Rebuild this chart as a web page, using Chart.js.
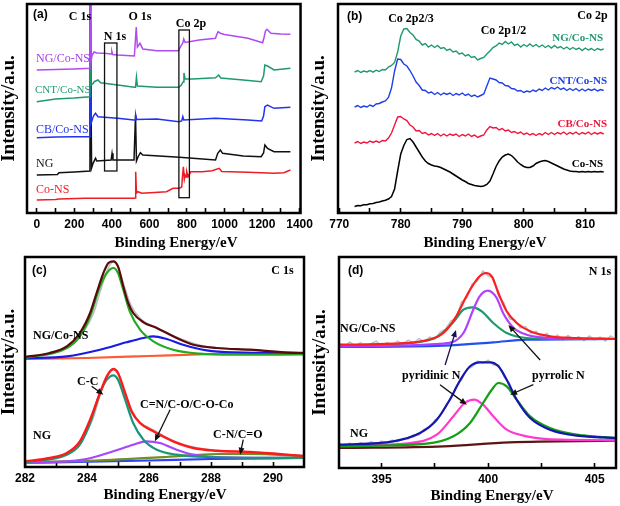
<!DOCTYPE html>
<html>
<head>
<meta charset="utf-8">
<title>XPS spectra</title>
<script src="https://cdn.jsdelivr.net/npm/chart.js@4.4.1/dist/chart.umd.min.js"></script>
<style>
html,body{margin:0;padding:0;background:#fff;}
#fig{position:relative;width:620px;height:506px;overflow:hidden;background:#fff;}
#fig canvas{position:absolute;}
</style>
</head>
<body>
<div id="fig">
<canvas id="ca" width="322" height="253" style="left:0;top:0;width:322px;height:253px"></canvas>
<canvas id="cb" width="310" height="253" style="left:310px;top:0;width:310px;height:253px"></canvas>
<canvas id="cc" width="310" height="253" style="left:0;top:253px;width:310px;height:253px"></canvas>
<canvas id="cd" width="310" height="253" style="left:310px;top:253px;width:310px;height:253px"></canvas>
</div>
<script>
// ================= DATA =================
// ---- (a) survey spectra: binding energy (eV) / intensity (a.u.) ----
const aE_ngco = [0,100,200,283.3,284,288,295,305,320,360,396,400,404,430,520,530,536,550,565,640,755,768,778,783,790,865,952,958,966,978,1000,1125,1203,1210,1218,1226,1247,1300,1351];
const aI_ngco = [143,143.5,144,144.7,240,151,158,161,160,159.7,159,161.5,158.5,158,157,186,166,169.7,164,162.3,162.3,167,170,174,170.5,173,174.7,178,181.3,179.7,178.5,174.7,170.3,175,182,183.7,179.7,179,178.7];
const aE_cnt = [0,100,200,283.3,284,288,300,306,326,340,431,520,526,531,536,640,757,770,779,784,790,830,952,969,980,1100,1195,1208,1215,1229,1264,1351];
const aI_cnt = [111.3,114,115,116.3,240,128,129.3,131.3,133,130.3,128,125.7,125.7,135.7,127,125.7,125.7,128,131,140,134,134,135.3,138,135,133,131.3,137,148,147,143,144.7];
const aE_cb = [0,100,200,283.3,284,290,300,306,313,326,431,518,524,527,532,640,757,772,778,783,952,1125,1198,1208,1215,1229,1264,1351];
const aI_cb = [75.3,76,76.3,76.3,240,90,96,98,99.7,96.3,94.7,93,93,98,93.5,94,91.3,92,96.3,93,94.7,93,92,97,106.3,108,104.7,105.7];
const aE_ng = [0,110,118,200,283.3,284,292,300,313,320,396,401,406,518,526,531,540,552,565,760,952,964,978,990,1100,1195,1208,1215,1229,1264,1351];
const aI_ng = [38,38.5,40.3,41,42,240,45,49.7,54.7,52,53,59.7,53,53,98,52,56.3,60.3,58,55.7,53,59.7,63,59.7,57,56.3,60,68,64.7,61.3,61.3];
const aE_cons = [0,100,118,257,518,524,527,531,538,560,691,726,760,772,776,781,786,790,795,799,806,821,882,934,972,985,1125,1264,1316,1351];
const aI_cons = [13,13.5,14,14.7,14.7,15,41.3,20,21.3,19.7,21.3,24.7,24.7,26,36.3,46.3,34,38,36,41.3,36.3,41.3,41.3,42.3,44.7,41.5,40.7,39.7,40.3,43];
const aTicks = [0,100,200,300,400,500,600,700,800,900,1000,1100,1200,1300,1400];
const aTickLabels = [0,200,400,600,800,1000,1200,1400];

// ---- (b) Co 2p (0.5 eV steps) ----
const bE = [772.5,773,773.5,774,774.5,775,775.5,776,776.5,777,777.5,778,778.5,779,779.5,780,780.5,781,781.5,782,782.5,783,783.5,784,784.5,785,785.5,786,786.5,787,787.5,788,788.5,789,789.5,790,790.5,791,791.5,792,792.5,793,793.5,794,794.5,795,795.5,796,796.5,797,797.5,798,798.5,799,799.5,800,800.5,801,801.5,802,802.5,803,803.5,804,804.5,805,805.5,806,806.5,807,807.5,808,808.5,809,809.5,810,810.5,811,811.5,812,812.5,813];
const bI_ngco = [141,142.5,140.5,142,141,142.5,140.8,142.8,141.5,143.5,143,146,147.5,150.5,161,177,184,184.5,180.5,178,173.5,172,168,169.5,166,168,165.5,167.5,164.5,165.5,162.5,164,161,162,159,160,157,158.5,155.5,156.5,153,154.5,155.5,159,162,165.5,167,170,168.5,171.5,169,171,167.5,169,166,168.5,166.5,169,166.5,168.5,166,168,165.5,167.5,165,167.5,165,166.5,164,166,163.5,165.5,163.5,165,162.5,165,163,164.5,162.5,164.5,163,164];
const bI_cnt = [106,107.5,105.5,107,106,108,106.5,109,109.5,111,112,115.5,125,142,154,153.5,149,147,142.5,137,131,127.5,123,122.5,120,121,118.5,120.5,118,120,118.5,120,117.5,119.5,118,120,117.5,119,116.5,118,116,117.5,119,127,135,134,133,130.5,130,127.5,127,124.5,124,122,122.5,120.5,122,121,123,121.5,124,122.5,125,123,125.5,124,126,123.5,125,122.5,124.5,122.5,124.5,122,124,122,124,122.5,124,122,123.5,122.5];
const bI_cb = [70,71.5,69.5,71,70,72,70.5,72,70.5,72.5,72,75,80,88,96,96.5,94,92.5,88,86,82,82.5,79.5,80.5,78,79.5,77.5,79.5,77,79,77,79,77.5,79,76.5,78.5,77,79,76.5,78,75.5,77,78,83,86.5,85,85.5,83,84.5,82,83,80.5,81.5,79.5,81,78.5,80,78,79.5,77.5,79.5,78,80.5,78.5,80.5,78.5,80.5,79,81,78.5,80.5,79,81,78.5,80.5,79,81,78.5,80.5,79,80.5,79];
const bI_cons = [6.5,7.5,7.2,8.3,8.2,9.2,9.5,10.5,11,12,12.8,14,16.5,24,42,59,67.5,73.5,74.5,71,66,61,56,52,49.5,48,47,46.5,45.5,44,42.5,41,39,37,35,33,31.5,29.5,28.5,27.5,27,26.5,27,28.5,32,39,46.5,52,56,58,59,57.5,54.5,51,48.5,46.5,45.5,45.5,47,49.5,51,52,52.5,51.5,50,48.5,47,45.5,44,43,42,41.5,41.5,41,41.5,41,41.5,41,41.5,41,41.5,41];
const bTicks = [770,775,780,785,790,795,800,805,810];
const bTickLabels = [770,780,790,800,810];

// ---- (c) C 1s ----
const cE_up_env = [282,282.8,283.35,283.77,284.1,284.31,284.53,284.69,284.85,285.0,285.17,285.33,285.49,285.82,286.25,286.78,287.43,288.18,289.26,290.87,291];
const cI_up_env = [110,114,120.7,134,154,174,194,204,205.7,200.7,180.7,164,154,144.7,139,130.7,122.3,119,117.3,114,114];
const cE_up_cc = [282,283.35,283.77,284.1,284.42,284.64,284.85,285.0,285.17,285.38,285.71,286.14,286.78,287.64,288.72,291];
const cI_up_cc = [109,119,130.7,150.7,180.7,194,199,194,177.3,155.7,137.3,125.7,117.3,113.3,112.3,112.5];
const cE_up_cn = [282,283.35,284.42,285.27,285.82,286.14,286.57,287.1,287.86,288.72,291];
const cI_up_cn = [108.7,110.7,117.3,124.7,129,130.7,128,122.3,116.7,114.7,114];
const cE_up_base = [282,284,286,288,290,291];
const cI_up_base = [108,109,111,113,114,114.3];
const cE_raw = [282,282.5,283,283.5,283.9,284.2,284.45,284.7,284.85,285.0,285.2,285.4,285.7,286.2,286.8,287.5,288.2,289.3,290.3,291];
const cI_raw_up = [110,112,116,123,136,153,178,200,205,200,181,163,149,140,131,123,119,117,115,114];
const cI_raw_lo = [5.5,7,10,16,30,49,75,94,97.5,93,72,56,45,36,26,19.5,16.5,15,13,11.5];
const cE_lo_env = [282,282.8,283.35,283.77,284.1,284.42,284.64,284.85,285.0,285.23,285.44,285.71,286.14,286.78,287.43,288.18,289.26,290.87,291];
const cI_lo_env = [5.7,9,14,25.7,47.3,74,90.7,98,94,74,55.7,44,35.7,25.7,19,16.3,15,11.3,11];
const cE_lo_cc = [282,283.35,283.77,284.1,284.42,284.64,284.85,285.0,285.23,285.49,285.82,286.25,286.89,287.86,291];
const cI_lo_cc = [4.7,12.3,22.3,44,74,87.3,91.7,87.3,67.3,44,27.3,17.3,12.3,10,9];
const cE_lo_cn = [282,283.88,284.85,285.49,285.92,286.35,286.89,287.43,288.18,291];
const cI_lo_cn = [4,7.3,15.7,22.3,25.7,24,17.3,12.3,10,9];
const cE_lo_co = [282,284.42,286.57,288.18,289.26,291];
const cI_lo_co = [4.7,6.7,10,13,13,10.5];
const cE_lo_base = [282,286,288,291];
const cI_lo_base = [4,6.5,8,9];
const cTicks = [282,283,284,285,286,287,288,289,290];
const cTickLabels = [282,284,286,288,290];

// ---- (d) N 1s ----
const dE_up_env = [393,395.55,397.1,397.9,398.5,398.98,399.3,399.6,399.9,400.17,400.48,400.87,401.34,401.97,402.9,404.16,406];
const dI_up_env = [123.3,124.3,127.7,135,151.7,171.7,183.3,191.7,195,191.7,175,156.7,145,136.7,131.7,130,129];
const dE_up_pyd = [393,396.33,397.59,398.37,398.84,399.26,399.7,400.24,400.87,401.81,403.38,406];
const dI_up_pyd = [122.3,125,131,146,158.3,160.7,156.7,145,135,130,129,129];
const dE_up_pyr = [393,397.9,398.84,399.3,399.6,399.99,400.4,400.7,401.2,401.81,402.9,406];
const dI_up_pyr = [121.7,124.3,135,158.3,171.7,177.3,170,155,140,133.3,130,129];
const dE_up_base = [393,397.9,400.24,401.81,406];
const dI_up_base = [121,122.3,125.7,128.3,129];
const dE_lo_env = [393,395.55,396.8,397.59,398.2,398.7,399.15,399.62,400.09,400.48,400.87,401.34,401.97,402.9,404.16,406];
const dI_lo_env = [23.3,26.7,35,48.3,68.3,88.3,101.7,105.7,105.7,101.7,88.3,68.3,50,38.3,32.3,30];
const dE_lo_pyd = [393,396.33,397.59,398.37,398.9,399.34,399.76,400.24,400.87,401.81,403.38,406];
const dI_lo_pyd = [22.3,25,33.3,51.7,65,68.3,63.3,51.7,38.3,31.7,28.3,27.7];
const dE_lo_pyr = [393,397.1,398.37,399.15,399.76,400.17,400.48,400.87,401.34,401.97,402.9,404.16,406];
const dI_lo_pyr = [21.7,24.3,31.7,45,65,78.3,85,81.7,68.3,51.7,40,33.3,30];
const dE_lo_base = [393,397.9,401,406];
const dI_lo_base = [20,21.7,25.7,27.3];
const dE_raw = [393,393.25,393.5,393.75,394,394.25,394.5,394.75,395,395.25,395.5,395.75,396,396.25,396.5,396.75,397,397.25,397.5,397.75,398,398.25,398.5,398.75,399,399.25,399.5,399.75,400,400.25,400.5,400.75,401,401.25,401.5,401.75,402,402.25,402.5,402.75,403,403.25,403.5,403.75,404,404.25,404.5,404.75,405,405.25,405.5,405.75,406];
const dI_raw_up = [125,121,126,122,125.5,121.5,124.5,127,122,125.5,123,127,124,128,125,129.5,126.5,131,129,136,139,147,150,166,170,184,187,197,192,190,171,165,149,148,140,141.5,134.5,137,131,134.5,129.5,133,128,132.5,128.5,131.5,127.5,132,128,131,127,132,128.5];
const dI_raw_lo = [24.5,22,25,22.5,25.5,23,26.5,24,27,25,28,26,29.5,29,33,33,39,40.5,48,52,62.5,69,82,88,99,101,107,105,108,103,103,91,85,70,64.5,54.5,51,45,43.5,39,39.5,35.5,36,33,34.5,31.5,33.5,30.5,32.5,29.5,31.5,29,31];
const dTicks = [395,397.5,400,402.5,405];
const dTickLabels = [395,400,405];

// ================= HELPERS =================
const SERIF = "'Times New Roman','Liberation Serif',serif";
const SANS = "Arial,'Liberation Sans',sans-serif";

function series(label, xs, ys, color, width, smooth) {
  return {
    label: label,
    data: xs.map((x, i) => ({x: x, y: ys[i]})),
    borderColor: color, backgroundColor: color,
    borderWidth: width, pointRadius: 0, pointHoverRadius: 0,
    showLine: true, fill: false, tension: 0,
    cubicInterpolationMode: smooth ? 'monotone' : 'default'
  };
}

const annotPlugin = {
  id: 'annot',
  afterDraw(chart, args, o) {
    const ctx = chart.ctx, a = chart.chartArea;
    const sx = chart.scales.x, sy = chart.scales.y;
    const ox = o.ox || 0, oy = o.oy || 0;
    ctx.save();
    (o.boxes || []).forEach(b => {
      const x0 = sx.getPixelForValue(b.x0), x1 = sx.getPixelForValue(b.x1);
      const y0 = sy.getPixelForValue(b.y0), y1 = sy.getPixelForValue(b.y1);
      ctx.lineWidth = 1.3; ctx.strokeStyle = '#111';
      ctx.strokeRect(Math.min(x0,x1), Math.min(y0,y1), Math.abs(x1-x0), Math.abs(y1-y0));
    });
    (o.arrows || []).forEach(r => {
      const x0 = sx.getPixelForValue(r.x0), y0 = sy.getPixelForValue(r.y0);
      const x1 = sx.getPixelForValue(r.x1), y1 = sy.getPixelForValue(r.y1);
      const ang = Math.atan2(y1 - y0, x1 - x0), L = 7, W = 3;
      ctx.strokeStyle = r.c || '#111'; ctx.fillStyle = r.c || '#111'; ctx.lineWidth = 1.3;
      ctx.beginPath(); ctx.moveTo(x0, y0);
      ctx.lineTo(x1 - Math.cos(ang) * L * 0.8, y1 - Math.sin(ang) * L * 0.8); ctx.stroke();
      ctx.beginPath(); ctx.moveTo(x1, y1);
      ctx.lineTo(x1 - Math.cos(ang) * L + Math.sin(ang) * W, y1 - Math.sin(ang) * L - Math.cos(ang) * W);
      ctx.lineTo(x1 - Math.cos(ang) * L - Math.sin(ang) * W, y1 - Math.sin(ang) * L + Math.cos(ang) * W);
      ctx.closePath(); ctx.fill();
    });
    ctx.lineWidth = 2.5; ctx.strokeStyle = '#000';
    ctx.strokeRect(a.left, a.top, a.right - a.left, a.bottom - a.top);
    (o.texts || []).forEach(t => {
      ctx.font = (t.w || 'bold') + ' ' + (t.s || 12) + 'px ' + (t.f || SERIF);
      ctx.fillStyle = t.c || '#000';
      ctx.textAlign = t.al || 'left';
      ctx.textBaseline = 'middle';
      ctx.fillText(t.t, t.x - ox, t.y - oy);
    });
    if (o.xTitle) {
      ctx.font = 'bold 15px ' + SERIF; ctx.fillStyle = '#000';
      ctx.textAlign = 'center'; ctx.textBaseline = 'middle';
      ctx.fillText('Binding Energy/eV', o.xTitle.x - ox, o.xTitle.y - oy);
    }
    ctx.restore();
  }
};

function makeChart(id, datasets, c) {
  return new Chart(document.getElementById(id), {
    type: 'scatter',
    data: {datasets: datasets},
    plugins: [annotPlugin],
    options: {
      responsive: false, animation: false, devicePixelRatio: 1,
      events: [],
      layout: {padding: {left: 0, right: c.padR, top: 4, bottom: 0}},
      plugins: {legend: {display: false}, tooltip: {enabled: false}, annot: c.annot},
      scales: {
        x: {
          type: 'linear', position: 'bottom', min: c.xmin, max: c.xmax,
          afterFit: s => { s.height = c.xh; },
          afterBuildTicks: s => { s.ticks = c.ticks.map(v => ({value: v})); },
          ticks: {
            autoSkip: false, maxRotation: 0, minRotation: 0, padding: 9, color: '#000',
            font: {family: SANS, size: 12, weight: 'bold'},
            callback: v => (c.labels.indexOf(v) >= 0 ? String(v) : '')
          },
          grid: {display: true, drawOnChartArea: false, drawTicks: true, tickLength: -5,
                 tickWidth: 1.6, tickColor: '#000', color: '#000'},
          border: {display: false},
          title: {display: false}
        },
        y: {
          type: 'linear', position: 'left', min: 0, max: c.ymax,
          afterFit: s => { s.width = c.yw; },
          ticks: {display: false},
          grid: {display: false, drawTicks: false},
          border: {display: false},
          title: {display: true, text: 'Intensity/a.u.', color: '#000',
                  font: {family: SERIF, size: c.yts || 19, weight: 'bold', lineHeight: 1},
                  padding: {top: c.ytp || 0, bottom: 0}}
        }
      }
    }
  });
}

// ================= PANEL (a) =================
makeChart('ca', [
  series('NG/Co-NS', aE_ngco, aI_ngco, '#b04af2', 1.5, false),
  series('CNT/Co-NS', aE_cnt, aI_cnt, '#1e9a6e', 1.5, false),
  series('CB/Co-NS', aE_cb, aI_cb, '#2233ee', 1.5, false),
  series('NG', aE_ng, aI_ng, '#111111', 1.5, false),
  series('Co-NS', aE_cons, aI_cons, '#ee1c24', 1.5, false)
], {
  xmin: -52, xmax: 1405, ymax: 209, xh: 40, yw: 27, padR: 15, ytp: 0,
  ticks: aTicks, labels: aTickLabels,
  annot: {
    ox: 0, oy: 0,
    boxes: [{x0: 361, x1: 427, y0: 42, y1: 170}, {x0: 757, x1: 813, y0: 15.3, y1: 183}],
    texts: [
      {t: '(a)', x: 33, y: 15, f: SANS, s: 12},
      {t: 'C 1s', x: 80, y: 17, al: 'center'},
      {t: 'O 1s', x: 140, y: 17, al: 'center'},
      {t: 'N 1s', x: 115, y: 37, al: 'center'},
      {t: 'Co 2p', x: 191, y: 24, al: 'center'},
      {t: 'NG/Co-NS', x: 36, y: 59, c: '#a63ee8', w: 'normal', s: 12},
      {t: 'CNT/Co-NS', x: 35, y: 90, c: '#1e9a6e', w: 'normal', s: 11},
      {t: 'CB/Co-NS', x: 36, y: 130, c: '#2233ee', w: 'normal', s: 12},
      {t: 'NG', x: 36, y: 164, c: '#111', w: 'normal', s: 12},
      {t: 'Co-NS', x: 36, y: 190, c: '#ee1c24', w: 'normal', s: 12}
    ],
    xTitle: {x: 176, y: 243}
  }
});

// ================= PANEL (b) =================
makeChart('cb', [
  series('NG/Co-NS', bE, bI_ngco, '#1e9a6e', 1.4, false),
  series('CNT/Co-NS', bE, bI_cnt, '#1f3fe6', 1.4, false),
  series('CB/Co-NS', bE, bI_cb, '#f0143c', 1.4, false),
  series('Co-NS', bE, bI_cons, '#000000', 1.5, false)
], {
  xmin: 769.8, xmax: 815, ymax: 209, xh: 40, yw: 28, padR: 4, ytp: 0,
  ticks: bTicks, labels: bTickLabels,
  annot: {
    ox: 310, oy: 0,
    texts: [
      {t: '(b)', x: 347, y: 17, f: SANS, s: 12},
      {t: 'Co 2p2/3', x: 411, y: 19, al: 'center'},
      {t: 'Co 2p1/2', x: 503.5, y: 31, al: 'center'},
      {t: 'Co 2p', x: 592.5, y: 16, al: 'center'},
      {t: 'NG/Co-NS', x: 603, y: 38, al: 'right', c: '#1e9a6e', s: 11},
      {t: 'CNT/Co-NS', x: 607, y: 81, al: 'right', c: '#1f3fe6', s: 11},
      {t: 'CB/Co-NS', x: 607, y: 124, al: 'right', c: '#f0143c', s: 11},
      {t: 'Co-NS', x: 603, y: 164, al: 'right', c: '#000', s: 11}
    ],
    xTitle: {x: 485, y: 243}
  }
});

// ================= PANEL (c) =================
makeChart('cc', [
  series('NG/Co-NS fit', cE_up_env, cI_up_env, '#5a0a0a', 2.2, true),
  series('NG/Co-NS C-C', cE_up_cc, cI_up_cc, '#22aa22', 2.2, true),
  series('NG/Co-NS C=N', cE_up_cn, cI_up_cn, '#1a1ae6', 2.2, true),
  series('NG/Co-NS baseline', cE_up_base, cI_up_base, '#ff5a32', 2.2, true),
  series('NG fit', cE_lo_env, cI_lo_env, '#ff1a1a', 2.4, true),
  series('NG C-C', cE_lo_cc, cI_lo_cc, '#17977a', 2.2, true),
  series('NG C=N/C-O/C-O-Co', cE_lo_cn, cI_lo_cn, '#a647ff', 2.2, true),
  series('NG C-N/C=O', cE_lo_co, cI_lo_co, '#6f8f22', 2.2, true),
  series('NG baseline', cE_lo_base, cI_lo_base, '#2f3fff', 2.2, true),
  series('NG/Co-NS raw', cE_raw, cI_raw_up, '#b9bebe', 1.6, true),
  series('NG raw', cE_raw, cI_raw_lo, '#b9bebe', 1.6, true)
], {
  xmin: 282, xmax: 291, ymax: 210, xh: 39, yw: 25, padR: 6, ytp: 0,
  ticks: cTicks, labels: cTickLabels,
  annot: {
    ox: 0, oy: 253,
    arrows: [
      {x0: 284.15, y0: 80.7, x1: 284.53, y1: 72.3},
      {x0: 286.68, y0: 57.3, x1: 286.19, y1: 25.7},
      {x0: 289.04, y0: 27.3, x1: 288.94, y1: 12.3}
    ],
    texts: [
      {t: '(c)', x: 32, y: 270.5, f: SANS, s: 12},
      {t: 'C 1s', x: 282.5, y: 270.5, al: 'center'},
      {t: 'NG/Co-NS', x: 33, y: 336},
      {t: 'NG', x: 33, y: 436},
      {t: 'C-C', x: 77, y: 382},
      {t: 'C=N/C-O/C-O-Co', x: 140, y: 405},
      {t: 'C-N/C=O', x: 213, y: 435}
    ],
    xTitle: {x: 165, y: 495}
  }
});

// ================= PANEL (d) =================
makeChart('cd', [
  series('NG/Co-NS fit', dE_up_env, dI_up_env, '#ff1f1f', 2.2, true),
  series('NG/Co-NS pyrrolic N', dE_up_pyr, dI_up_pyr, '#b040ff', 2.2, true),
  series('NG/Co-NS pyridinic N', dE_up_pyd, dI_up_pyd, '#1a9a6e', 2.2, true),
  series('NG/Co-NS baseline', dE_up_base, dI_up_base, '#2250ee', 2.2, true),
  series('NG fit', dE_lo_env, dI_lo_env, '#1515b0', 2.2, true),
  series('NG pyrrolic N', dE_lo_pyr, dI_lo_pyr, '#14a014', 2.2, true),
  series('NG pyridinic N', dE_lo_pyd, dI_lo_pyd, '#ff3ad0', 2.2, true),
  series('NG baseline', dE_lo_base, dI_lo_base, '#5b1515', 2.2, true),
  series('NG/Co-NS raw', dE_raw, dI_raw_up, '#b8c2c4', 1.4, false),
  series('NG raw', dE_raw, dI_raw_lo, '#b8c2c4', 1.4, false)
], {
  xmin: 393, xmax: 406, ymax: 211, xh: 38, yw: 29, padR: 4, ytp: 1,
  ticks: dTicks, labels: dTickLabels,
  annot: {
    ox: 310, oy: 253,
    arrows: [
      {x0: 397.98, y0: 103, x1: 398.49, y1: 138, c: '#141450'},
      {x0: 402.44, y0: 108, x1: 400.95, y1: 143},
      {x0: 397.74, y0: 83.3, x1: 399.0, y1: 63.3},
      {x0: 402.12, y0: 83.3, x1: 401.03, y1: 73.3}
    ],
    texts: [
      {t: '(d)', x: 348, y: 270.5, f: SANS, s: 12},
      {t: 'N 1s', x: 600, y: 272, al: 'center'},
      {t: 'NG/Co-NS', x: 340, y: 329},
      {t: 'pyridinic N', x: 402, y: 376},
      {t: 'pyrrolic N', x: 532, y: 376},
      {t: 'NG', x: 350, y: 434}
    ],
    xTitle: {x: 492, y: 496}
  }
});
</script>
</body>
</html>
